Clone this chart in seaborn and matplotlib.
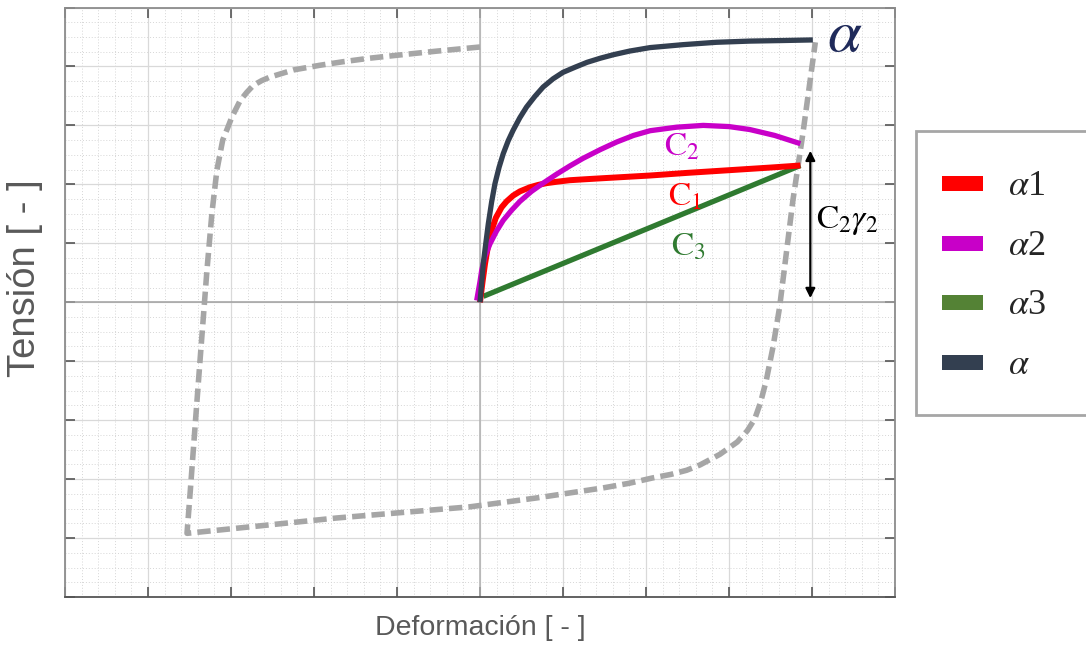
import numpy as np
import pandas as pd
import matplotlib
matplotlib.use("Agg")
import matplotlib.pyplot as plt
import seaborn as sns
from matplotlib.patches import Patch, Rectangle
from matplotlib.legend_handler import HandlerPatch
from matplotlib.ticker import MultipleLocator, AutoMinorLocator

# ---------------- data ----------------
alpha_x = [0.00, 0.02, 0.04, 0.07, 0.10, 0.14, 0.18, 0.23, 0.28, 0.34, 0.40, 0.48, 0.56, 0.66,
           0.76, 0.88, 1.00, 1.15, 1.29, 1.45, 1.61, 1.80, 2.05, 2.45, 2.85, 3.25, 3.65, 4.01]
alpha_y = [0.00, 0.33, 0.66, 1.00, 1.33, 1.70, 2.01, 2.29, 2.52, 2.74, 2.92, 3.13, 3.31, 3.49,
           3.65, 3.79, 3.90, 3.99, 4.07, 4.14, 4.20, 4.26, 4.32, 4.37, 4.41, 4.43, 4.44, 4.45]

alpha1_x = [0.00, 0.03, 0.06, 0.09, 0.14, 0.19, 0.26, 0.32, 0.40, 0.48, 0.60, 0.70, 0.80, 0.93,
            1.08, 1.25, 1.49, 2.05, 2.50, 3.00, 3.50, 3.86]
alpha1_y = [0.00, 0.34, 0.65, 0.90, 1.22, 1.43, 1.61, 1.71, 1.81, 1.88, 1.95, 1.99, 2.02, 2.045,
            2.07, 2.085, 2.105, 2.15, 2.195, 2.24, 2.285, 2.32]

alpha2_x = [-0.04, 0.00, 0.02, 0.06, 0.12, 0.20, 0.28, 0.38, 0.48, 0.62, 0.76, 0.92, 1.08, 1.24,
            1.45, 1.65, 1.85, 2.05, 2.37, 2.69, 3.00, 3.25, 3.55, 3.86]
alpha2_y = [0.03, 0.35, 0.54, 0.78, 0.99, 1.21, 1.39, 1.56, 1.71, 1.88, 2.02, 2.17, 2.31, 2.44,
            2.59, 2.72, 2.83, 2.91, 2.97, 3.00, 2.98, 2.93, 2.83, 2.69]

alpha3_x = [0.04, 3.86]
alpha3_y = [0.10, 2.32]

loop_x = [0.00, -0.52, -1.00, -1.33, -1.65, -1.93, -2.25, -2.53, -2.63, -2.73, -2.81, -2.89,
          -2.99, -3.04, -3.10, -3.17, -3.23, -3.29, -3.37, -3.43, -3.49, -3.53,
          -1.73, -0.12, 0.68, 1.48, 1.80, 2.08, 2.30, 2.49, 2.65, 2.89, 3.10, 3.22, 3.31,
          3.38, 3.45, 3.53, 3.61, 3.77, 3.89, 4.04]
loop_y = [4.33, 4.26, 4.19, 4.14, 4.08, 4.02, 3.94, 3.82, 3.76, 3.68, 3.56, 3.42,
          3.14, 2.96, 2.75, 2.24, 1.51, 0.54, -0.93, -2.05, -3.19, -3.92,
          -3.66, -3.47, -3.32, -3.15, -3.07, -2.98, -2.92, -2.85, -2.76, -2.58, -2.37, -2.18, -1.98,
          -1.70, -1.32, -0.76, -0.08, 1.73, 2.86, 4.41]

legend_labels = [r"$\alpha$1", r"$\alpha$2", r"$\alpha$3", r"$\alpha$"]
legend_colors = ["#FF0000", "#C800C8", "#548235", "#333F50"]

x_label = "Deformación [ - ]"
y_label = "Tensión [ - ]"

# ---------------- style ----------------
sns.set_theme(style="white")
plt.rcParams["font.family"] = ["Liberation Sans", "DejaVu Sans"]
plt.rcParams["mathtext.fontset"] = "stix"

fig = plt.figure(figsize=(10.86, 6.55), dpi=100)
ax = fig.add_axes([65 / 1086, 58 / 655, 830 / 1086, 589.5 / 655])

ax.set_xlim(-5, 5)
ax.set_ylim(-5, 5)
ax.xaxis.set_major_locator(MultipleLocator(1))
ax.yaxis.set_major_locator(MultipleLocator(1))
ax.xaxis.set_minor_locator(AutoMinorLocator(5))
ax.yaxis.set_minor_locator(AutoMinorLocator(4))
ax.grid(which="major", color="#D9D9D9", lw=0.9, ls="-", zorder=0)
ax.grid(which="minor", color="#D6D6D6", lw=0.7, ls=(0, (1, 2)), zorder=0)
ax.set_axisbelow(True)
ax.axhline(0, color="#A0A0A0", lw=1.1, zorder=1)
ax.axvline(0, color="#B0B0B0", lw=1.1, zorder=1)

ax.tick_params(which="major", direction="in", length=7, width=1.2, colors="#555555",
               top=True, right=True, bottom=True, left=True,
               labelbottom=False, labelleft=False)
ax.tick_params(which="minor", length=0)
for side, sp in ax.spines.items():
    sp.set_visible(True)
    sp.set_color("#8C8C8C")
    sp.set_linewidth(1.3)
ax.spines["bottom"].set_color("#555555")

# ---------------- curves ----------------
loop_df = pd.DataFrame({"x": loop_x, "y": loop_y})
sns.lineplot(data=loop_df, x="x", y="y", sort=False, estimator=None, ax=ax,
             color="#A6A6A6", lw=4.0, zorder=2)
ax.lines[-1].set_dashes((2.4, 1.1))
ax.lines[-1].set_dash_capstyle("butt")
ax.lines[-1].set_dash_joinstyle("round")

series = [
    (alpha3_x, alpha3_y, "#2F7A30", 3.8),
    (alpha1_x, alpha1_y, "#FF0000", 4.3),
    (alpha2_x, alpha2_y, "#C800C8", 3.8),
    (alpha_x, alpha_y, "#333F50", 3.8),
]
for xs, ys, c, lw in series:
    df = pd.DataFrame({"x": xs, "y": ys})
    sns.lineplot(data=df, x="x", y="y", sort=False, estimator=None, ax=ax,
                 color=c, lw=lw, zorder=3)
    ax.lines[-1].set_solid_capstyle("butt")
    ax.lines[-1].set_solid_joinstyle("round")

# ---------------- annotations ----------------
ax.annotate("", xy=(3.98, 2.57), xytext=(3.98, 0.07),
            arrowprops=dict(arrowstyle="<|-|>", color="black", lw=1.6,
                            mutation_scale=14, shrinkA=0, shrinkB=0), zorder=4)
ax.text(4.40, 4.53, r"$\alpha$", color="#1F2A5A", fontsize=44, ha="center", va="center")
ax.text(2.43, 2.63, r"$\mathrm{C}_2$", color="#C800C8", fontsize=24, ha="center", va="center")
ax.text(2.47, 1.78, r"$\mathrm{C}_1$", color="#FF0000", fontsize=24, ha="center", va="center")
ax.text(2.51, 0.93, r"$\mathrm{C}_3$", color="#2F7A30", fontsize=24, ha="center", va="center")
ax.text(4.43, 1.38, r"$\mathrm{C}_2\gamma_2$", color="black", fontsize=24, ha="center", va="center")

ax.set_xlabel(x_label, fontsize=20.5, color="#595959", visible=True)
ax.set_ylabel(y_label, fontsize=27.5, color="#595959", visible=True)
ax.xaxis.label.set_visible(True)
ax.yaxis.label.set_visible(True)
ax.xaxis.set_label_coords(0.5, -0.031)
ax.yaxis.set_label_coords(-0.0265, 0.5416)

# ---------------- legend ----------------
def small_rect(legend, orig_handle, xdescent, ydescent, width, height, fontsize):
    h = 0.42 * fontsize
    return Rectangle((-xdescent, -ydescent + (height - h) / 2.0), width, h)

handles = [Patch(facecolor=c, edgecolor="none") for c in legend_colors]
leg = fig.legend(handles, legend_labels, loc="upper left",
                 bbox_to_anchor=(916 / 1086, 0.30, 172 / 1086, 0.50),
                 bbox_transform=fig.transFigure, mode="expand", borderaxespad=0,
                 fontsize=26, handlelength=1.14, handleheight=1.9, labelspacing=0.17,
                 borderpad=0.72, handletextpad=0.7, frameon=True, fancybox=False,
                 framealpha=1, edgecolor="#A6A6A6",
                 handler_map={Patch: HandlerPatch(patch_func=small_rect)},
                 prop={"family": "Liberation Serif", "size": 26})
leg.get_frame().set_linewidth(2.0)

fig.savefig("out.png", dpi=100, facecolor="white")
